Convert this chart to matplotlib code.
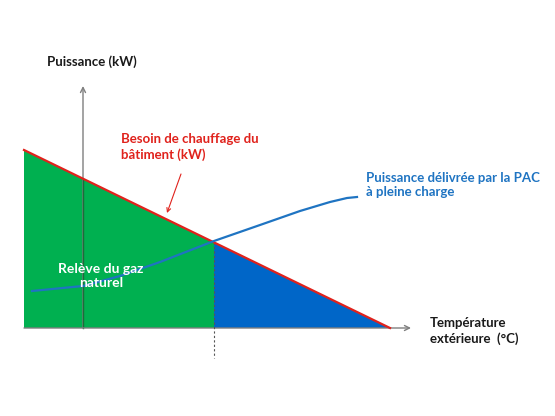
import matplotlib
matplotlib.use("Agg")
import matplotlib.pyplot as plt
import numpy as np

# Schematic data (x: outdoor temperature axis units, y: power units)
besoin_x = [24, 390]            # building heating demand line
besoin_y = [266, 88]
pac_x = [32, 83, 120, 160, 214, 260, 300, 330, 347, 357]   # heat pump output at full load
pac_y = [125, 130, 140, 154, 175, 191, 205, 214, 218, 219]
equilibre_x = 214               # balance point
axe_y_x = 83                    # position of the power axis
base_y = 88
labels = {
    "yaxis": "Puissance (kW)",
    "besoin": "Besoin de chauffage du\nbâtiment (kW)",
    "pac": "Puissance délivrée par la PAC\nà pleine charge",
    "gaz": "Relève du gaz\nnaturel",
    "xaxis": "Température\nextérieure  (°C)",
}

plt.rcParams['font.family'] = ['Lato', 'DejaVu Sans']

fig = plt.figure(figsize=(5.55, 4.16), dpi=100)
ax = fig.add_axes([0, 0, 1, 1])
ax.set_xlim(0, 555)
ax.set_ylim(0, 416)
ax.axis('off')

def demand(x):
    return np.interp(x, besoin_x, besoin_y)

y_eq = demand(equilibre_x)
# green area (gas backup)
ax.fill([besoin_x[0], equilibre_x, equilibre_x, besoin_x[0]],
        [besoin_y[0], y_eq, base_y, base_y], color='#00B050', lw=0, zorder=1)
# blue area (heat pump)
ax.fill([equilibre_x, besoin_x[1], equilibre_x],
        [y_eq, base_y, base_y], color='#0066C8', lw=0, zorder=1)

# axes
ax.annotate('', xy=(axe_y_x, 330), xytext=(axe_y_x, base_y),
            arrowprops=dict(arrowstyle='->', color='#7F7F7F', lw=1.0,
                            shrinkA=0, shrinkB=0, mutation_scale=9), zorder=2)
ax.plot([axe_y_x, axe_y_x], [base_y, demand(axe_y_x)], color='#1E6B3A',
        lw=1.0, zorder=2)
ax.annotate('', xy=(411, base_y), xytext=(24, base_y),
            arrowprops=dict(arrowstyle='->', color='#7F7F7F', lw=1.0,
                            shrinkA=0, shrinkB=0, mutation_scale=9), zorder=2)
ax.plot([equilibre_x, equilibre_x], [y_eq, 58], color='#555555', lw=0.8,
        ls=(0, (2, 2)), zorder=2)

# curves
ax.plot(besoin_x, besoin_y, color='#E0221C', lw=1.6, zorder=3)
ax.plot(pac_x, pac_y, color='#1F74C2', lw=1.6, zorder=4)

# red pointer arrow
ax.annotate('', xy=(167, 203), xytext=(181, 242),
            arrowprops=dict(arrowstyle='->', color='#E0221C', lw=0.8,
                            shrinkA=0, shrinkB=0, mutation_scale=7), zorder=5)

fs = 9.5
ax.text(92, 354, labels["yaxis"], ha='center', va='center', fontsize=fs,
        fontweight='bold', color='#1A1A1A')
ax.text(121, 269, labels["besoin"], ha='left', va='center', fontsize=fs,
        fontweight='bold', color='#E0221C', linespacing=1.3)
ax.text(366, 231, labels["pac"], ha='left', va='center', fontsize=fs,
        fontweight='bold', color='#1F74C2', linespacing=1.3)
ax.text(101, 140, labels["gaz"], ha='center', va='center', fontsize=fs + 0.5,
        fontweight='bold', color='white', linespacing=1.25, zorder=6)
ax.text(430, 85, labels["xaxis"], ha='left', va='center', fontsize=fs,
        fontweight='bold', color='#1A1A1A', linespacing=1.4)

fig.savefig('out.png', dpi=100)
